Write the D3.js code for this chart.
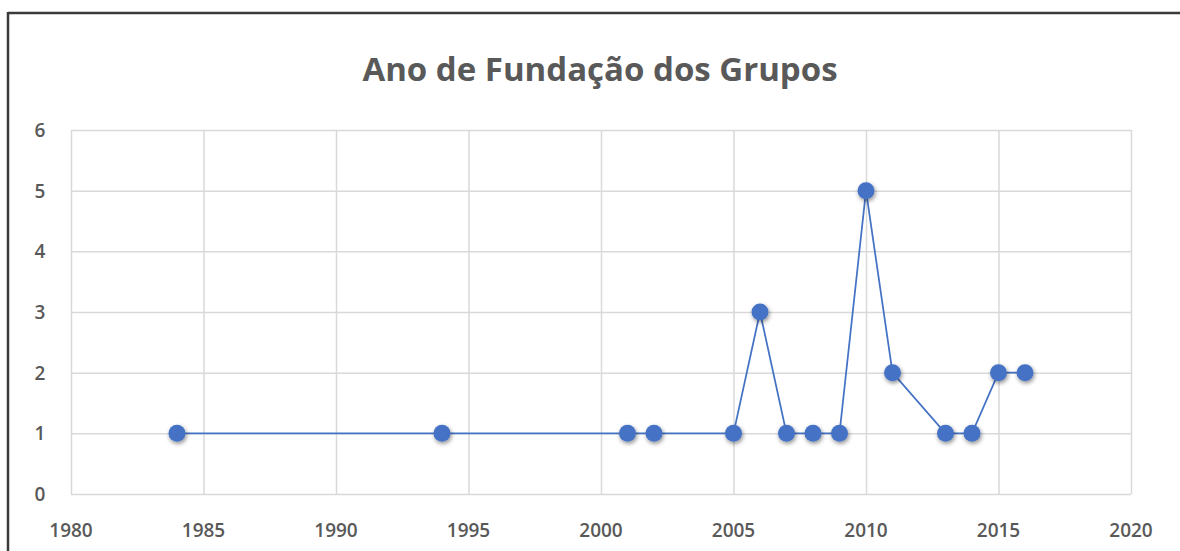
<!DOCTYPE html>
<html>
<head>
<meta charset="utf-8">
<script src="https://cdn.jsdelivr.net/npm/d3@7"></script>
<style>
  body { margin: 0; background: #fff; }
  text { font-family: "Open Sans", "Noto Sans", sans-serif; fill: #595959; }
</style>
</head>
<body>
<svg id="chart" width="1180" height="551"></svg>
<script>
// --- Data ---
const anos = [1984, 1994, 2001, 2002, 2005, 2006, 2007, 2008, 2009, 2010, 2011, 2013, 2014, 2015, 2016];
const grupos = [1, 1, 1, 1, 1, 3, 1, 1, 1, 5, 2, 1, 1, 2, 2];
const xTicks = [1980, 1985, 1990, 1995, 2000, 2005, 2010, 2015, 2020];
const yTicks = [0, 1, 2, 3, 4, 5, 6];
const titulo = "Ano de Fundação dos Grupos";

const data = anos.map((a, i) => ({ano: a, n: grupos[i]}));

const svg = d3.select("#chart");
const plot = {left: 71, right: 1131, top: 130, bottom: 494};

const x = d3.scaleLinear().domain([1980, 2020]).range([plot.left, plot.right]);
const y = d3.scaleLinear().domain([0, 6]).range([plot.bottom, plot.top]);

// shadow for the markers
const defs = svg.append("defs");
const f = defs.append("filter").attr("id", "sombra")
  .attr("x", "-50%").attr("y", "-50%").attr("width", "200%").attr("height", "200%");
f.append("feDropShadow").attr("dx", 1).attr("dy", 2).attr("stdDeviation", 2)
  .attr("flood-color", "#000").attr("flood-opacity", 0.45);

// outer frame (only top and left edges show)
svg.append("line").attr("x1", 8).attr("x2", 1180).attr("y1", 13).attr("y2", 13)
  .attr("stroke", "#3a3a3a").attr("stroke-width", 2.5);
svg.append("line").attr("x1", 8).attr("x2", 8).attr("y1", 12).attr("y2", 551)
  .attr("stroke", "#3a3a3a").attr("stroke-width", 2.5);

// title
svg.append("text")
  .attr("x", 600).attr("y", 81)
  .attr("text-anchor", "middle")
  .style("font-size", "33px").style("font-weight", "bold")
  .text(titulo);

// gridlines
svg.append("g")
  .attr("transform", `translate(0,${plot.bottom})`)
  .call(d3.axisBottom(x).tickValues(xTicks).tickSize(-(plot.bottom - plot.top)).tickFormat(""))
  .call(g => g.select(".domain").remove())
  .call(g => g.selectAll("line").attr("stroke", "#d9d9d9").attr("stroke-width", 1.5));

svg.append("g")
  .attr("transform", `translate(${plot.left},0)`)
  .call(d3.axisLeft(y).tickValues(yTicks).tickSize(-(plot.right - plot.left)).tickFormat(""))
  .call(g => g.select(".domain").remove())
  .call(g => g.selectAll("line").attr("stroke", "#d9d9d9").attr("stroke-width", 1.5));

// tick labels
svg.append("g").selectAll("text")
  .data(yTicks).join("text")
  .attr("x", 40).attr("y", d => y(d) + 7)
  .attr("text-anchor", "middle")
  .style("font-size", "19px").style("font-weight", 600)
  .text(d => d);

svg.append("g").selectAll("text")
  .data(xTicks).join("text")
  .attr("x", d => x(d)).attr("y", 537)
  .attr("text-anchor", "middle")
  .style("font-size", "19px").style("font-weight", 600)
  .text(d => d);

// line
const linha = d3.line().x(d => x(d.ano)).y(d => y(d.n));
svg.append("path")
  .datum(data)
  .attr("d", linha)
  .attr("fill", "none")
  .attr("stroke", "#4472c4")
  .attr("stroke-width", 1.75);

// markers
svg.append("g").selectAll("circle")
  .data(data).join("circle")
  .attr("cx", d => x(d.ano))
  .attr("cy", d => y(d.n))
  .attr("r", 8.5)
  .attr("fill", "#4472c4")
  .attr("filter", "url(#sombra)");
</script>
</body>
</html>
